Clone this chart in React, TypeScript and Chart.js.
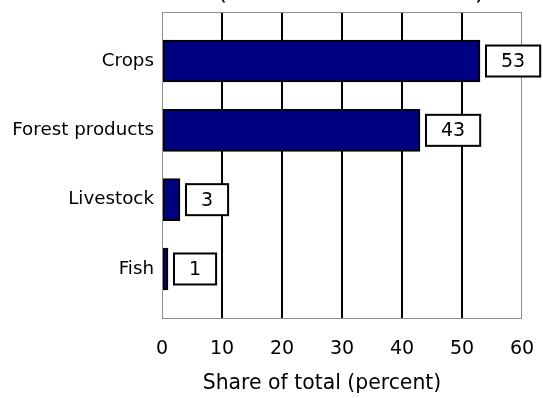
import React, { useEffect, useRef } from "react";
import { Chart, registerables } from "chart.js";

Chart.register(...registerables);

const categories = ["Crops", "Forest products", "Livestock", "Fish"];
const shares = [53, 43, 3, 1];
const xTicks = [0, 10, 20, 30, 40, 50, 60];
const axisTitle = "Share of total (percent)";
const chartTitle = "(share of total value)";

const FONT = "'DejaVu Sans', Verdana, sans-serif";

export default function App() {
  const ref = useRef<HTMLCanvasElement | null>(null);

  useEffect(() => {
    if (!ref.current) return;

    const frame = {
      id: "frame",
      afterDatasetsDraw(chart: any) {
        const { ctx, chartArea: a } = chart;
        ctx.save();
        ctx.strokeStyle = "#8c8c8c";
        ctx.lineWidth = 1;
        ctx.strokeRect(a.left + 0.5, a.top + 0.5, a.right - a.left - 1, a.bottom - a.top);
        ctx.restore();
      },
    };

    const valueBoxes = {
      id: "valueBoxes",
      afterDatasetsDraw(chart: any) {
        const { ctx } = chart;
        const meta = chart.getDatasetMeta(0);
        ctx.save();
        ctx.font = `19px ${FONT}`;
        meta.data.forEach((bar: any, i: number) => {
          const text = String(shares[i]);
          const tw = ctx.measureText(text).width;
          const w = tw + 30;
          const h = 31;
          const left = bar.x + 6;
          const top = bar.y - h / 2;
          ctx.fillStyle = "#ffffff";
          ctx.fillRect(left, top, w, h);
          ctx.strokeStyle = "#000000";
          ctx.lineWidth = 2;
          ctx.strokeRect(left, top, w, h);
          ctx.fillStyle = "#000000";
          ctx.textAlign = "center";
          ctx.textBaseline = "middle";
          ctx.fillText(text, left + w / 2, bar.y + 1);
        });
        ctx.restore();
      },
    };

    const texts = {
      id: "texts",
      afterDraw(chart: any) {
        const { ctx } = chart;
        ctx.save();
        ctx.fillStyle = "#000000";
        ctx.textAlign = "center";
        ctx.textBaseline = "alphabetic";
        ctx.font = `25.5px ${FONT}`;
        ctx.fillText(chartTitle, 351, -1.5);
        ctx.font = `20.4px ${FONT}`;
        ctx.textBaseline = "middle";
        ctx.fillText(axisTitle, 322, 384);
        ctx.restore();
      },
    };

    const chart = new Chart(ref.current, {
      type: "bar",
      data: {
        datasets: [
          {
            data: shares.map((v, i) => ({ x: v, y: i })),
            backgroundColor: "#000080",
            borderColor: "#000000",
            borderWidth: 2,
            borderSkipped: false,
            barThickness: 42,
          },
        ],
      },
      options: {
        indexAxis: "y",
        responsive: false,
        animation: false,
        layout: { padding: { top: 12, right: 21, left: 0, bottom: 0 } },
        plugins: {
          legend: { display: false },
          tooltip: { enabled: false },
          title: { display: false },
        },
        scales: {
          x: {
            type: "linear",
            position: "bottom",
            bounds: "data",
            offset: false,
            min: xTicks[0],
            max: xTicks[xTicks.length - 1],
            afterBuildTicks: (scale: any) => {
              scale.ticks = xTicks.map((v) => ({ value: v }));
            },
            afterFit: (scale: any) => {
              scale.height = 80;
              scale.paddingLeft = 0;
              scale.paddingRight = 0;
            },
            ticks: {
              color: "#000000",
              font: { family: FONT, size: 19 },
              padding: 20,
              maxRotation: 0,
            },
            grid: {
              offset: false,
              drawTicks: false,
              lineWidth: 2,
              color: (c: any) =>
                c.tick && c.tick.value > xTicks[0] && c.tick.value < xTicks[xTicks.length - 1]
                  ? "#000000"
                  : "rgba(0,0,0,0)",
            },
            border: { display: false },
          },
          y: {
            type: "linear",
            reverse: true,
            bounds: "data",
            offset: false,
            min: -0.707,
            max: categories.length - 1 + 0.707,
            afterBuildTicks: (scale: any) => {
              scale.ticks = categories.map((_, i) => ({ value: i }));
            },
            afterFit: (scale: any) => {
              scale.width = 162;
              scale.paddingTop = 0;
              scale.paddingBottom = 0;
            },
            ticks: {
              color: "#000000",
              font: { family: FONT, size: 18.3 },
              padding: 8,
              callback: (v: any) => categories[v] ?? "",
            },
            grid: { display: false, drawTicks: false, offset: false },
            border: { display: false },
          },
        },
      },
      plugins: [frame, valueBoxes, texts],
    } as any);

    return () => chart.destroy();
  }, []);

  return (
    <div style={{ position: "absolute", left: 0, top: 0, width: 543, height: 398, background: "#ffffff" }}>
      <canvas ref={ref} width={543} height={398} style={{ display: "block" }} />
    </div>
  );
}
